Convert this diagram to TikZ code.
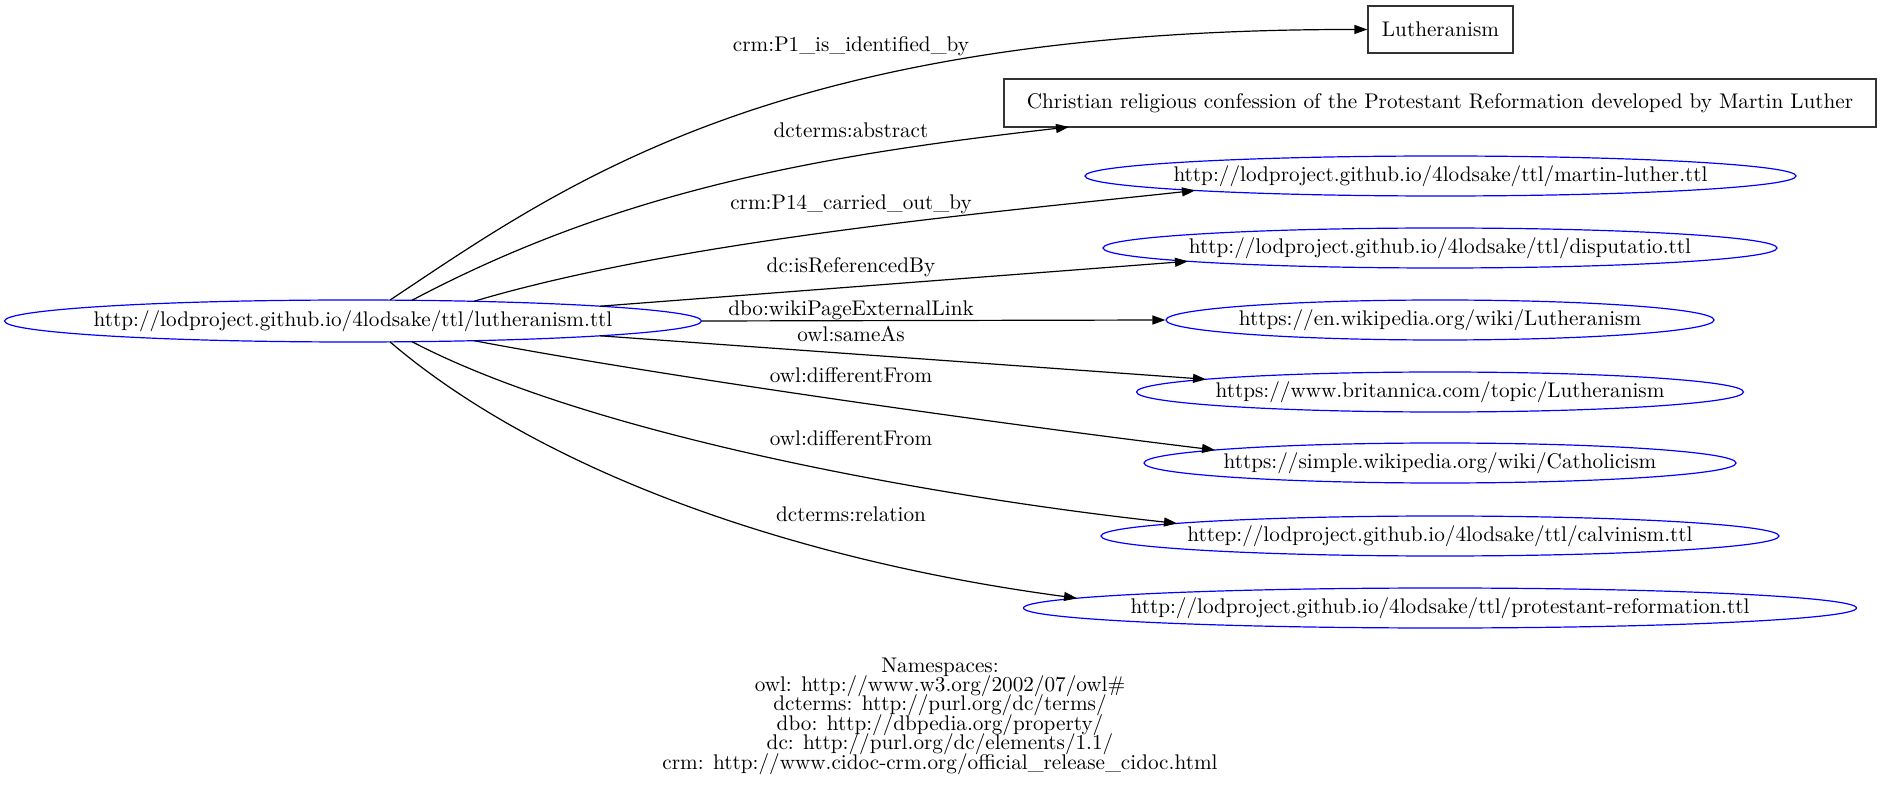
\documentclass[tikz,border=0pt]{standalone}
\usepackage{tikz}
\usetikzlibrary{shapes.geometric,arrows.meta}

\newcommand{\uri}[1]{\makebox[0pt]{#1}}
\newcommand{\nsfont}{\fontsize{10.6}{9.7}\selectfont\lineskiplimit=-10pt\relax}

\begin{document}
\begin{tikzpicture}[x=0.5pt,y=-0.5pt,font=\fontsize{10.6}{13}\selectfont]

\tikzset{
  resource/.style={ellipse, draw=blue, line width=0.6pt, inner sep=0pt,
                  minimum height=20pt},
  literal/.style={rectangle, draw=black!80, line width=0.6pt, inner sep=0pt,
                  minimum height=23.5pt},
  proplabel/.style={inner sep=1pt},
  link/.style={black, line width=0.6pt,
                  -{Triangle[length=6.5pt, width=4.5pt]}}
}

\useasboundingbox (0,0) rectangle (1883,790);

% Subject
\node[resource, minimum width=348.5pt, minimum height=21pt] (src) at (353,321) {\uri{http://lodproject.github.io/4lodsake/ttl/lutheranism.ttl}};

% Objects
\node[literal, minimum width=72.5pt] (luth) at (1440.5,29.5) {Lutheranism};
\node[literal, minimum width=436pt, minimum height=24pt] (abs) at (1440,103) {Christian religious confession of the Protestant Reformation developed by Martin Luther};
\node[resource, minimum width=355.5pt] (ml) at (1440.5,176) {\uri{http://lodproject.github.io/4lodsake/ttl/martin-luther.ttl}};
\node[resource, minimum width=337pt] (disp) at (1440,248) {\uri{http://lodproject.github.io/4lodsake/ttl/disputatio.ttl}};
\node[resource, minimum width=274pt] (enwiki) at (1440,320) {\uri{https://en.wikipedia.org/wiki/Lutheranism}};
\node[resource, minimum width=303.5pt] (brit) at (1440,392) {\uri{https://www.britannica.com/topic/Lutheranism}};
\node[resource, minimum width=296pt] (simple) at (1440,463) {\uri{https://simple.wikipedia.org/wiki/Catholicism}};
\node[resource, minimum width=339pt] (calv) at (1440,536) {\uri{httep://lodproject.github.io/4lodsake/ttl/calvinism.ttl}};
\node[resource, minimum width=416.5pt] (prot) at (1440,608) {\uri{http://lodproject.github.io/4lodsake/ttl/protestant-reformation.ttl}};

% Property labels
\node[proplabel] (p1) at (851,46) {crm:P1\_is\_identified\_by};
\node[proplabel] (p2) at (851,130) {dcterms:abstract};
\node[proplabel] (p3) at (851,204) {crm:P14\_carried\_out\_by};
\node[proplabel] (p4) at (851,267) {dc:isReferencedBy};
\node[proplabel] (p5) at (851,310) {dbo:wikiPageExternalLink};
\node[proplabel] (p6) at (851,334) {owl:sameAs};
\node[proplabel] (p7) at (851,375) {owl:differentFrom};
\node[proplabel] (p8) at (851,438) {owl:differentFrom};
\node[proplabel] (p9) at (851,514) {dcterms:relation};

% Edges
\draw[link] ([shift={(37,-20.9)}]src.center) .. controls (570,180) and (780,29) .. (luth.west);
\draw[link] ([shift={(59,-20.7)}]src.center) .. controls (620,190) and (821,155) .. ([shift={(-371,24)}]abs.center);
\draw[link] ([shift={(121,-19.7)}]src.center) .. controls (680,240) and (996,212) .. ([shift={(-245.5,14.5)}]ml.center);
\draw[link] ([shift={(247,-14.8)}]src.center) -- ([shift={(-252,13.3)}]disp.center);
\draw[link] (src.east) -- (enwiki.west);
\draw[link] ([shift={(247,14.8)}]src.center) -- ([shift={(-234,-12.7)}]brit.center);
\draw[link] ([shift={(121,19.7)}]src.center) .. controls (671,378) and (1016,426) .. ([shift={(-225,-13)}]simple.center);
\draw[link] ([shift={(59,20.7)}]src.center) .. controls (600,440) and (960,500) .. ([shift={(-263,-12.6)}]calv.center);
\draw[link] ([shift={(37,20.9)}]src.center) .. controls (540,470) and (790,560) .. ([shift={(-363,-9.8)}]prot.center);

% Namespaces
\node[align=center, font=\nsfont] (ns) at (940,716) {Namespaces:\\
owl: http://www.w3.org/2002/07/owl\#\\
dcterms: http://purl.org/dc/terms/\\
dbo: http://dbpedia.org/property/\\
dc: http://purl.org/dc/elements/1.1/\\
crm: http://www.cidoc-crm.org/official\_release\_cidoc.html};

\end{tikzpicture}
\end{document}
